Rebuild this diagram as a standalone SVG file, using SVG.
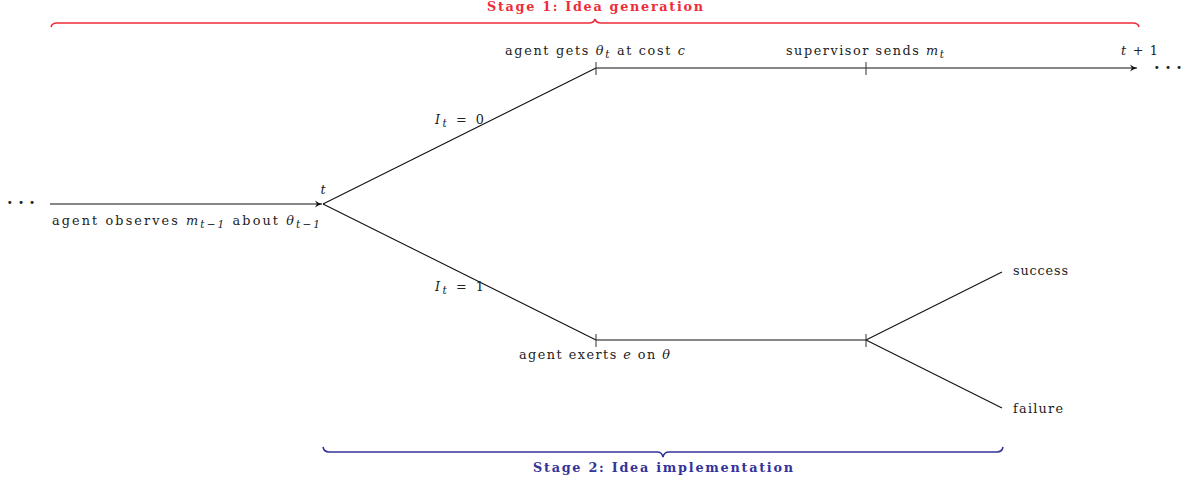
<svg xmlns="http://www.w3.org/2000/svg" width="1195" height="482" viewBox="0 0 1195 482">
<style>
text{font-family:"DejaVu Serif","Liberation Serif",serif;font-size:12.8px;fill:#222}
.m{font-style:italic}
.s{font-size:10.5px}
.ln{stroke:#111;stroke-width:1.1;fill:none}
.tk{stroke:#333;stroke-width:1;fill:none}
.b1{fill:#ee2c3a;font-weight:bold}
.b2{fill:#33339a;font-weight:bold}
.dots{font-size:16px;font-weight:bold}
</style>
<defs>
<marker id="ar" markerWidth="10" markerHeight="10" refX="8" refY="5" orient="auto" markerUnits="userSpaceOnUse">
<path d="M1,1.5 Q4,4 8,5 Q4,6 1,8.5 L3,5 Z" fill="#111"/>
</marker>
</defs>
<rect width="1195" height="482" fill="#fff"/>
<g id="connectors">
<line class="ln" x1="50" y1="204" x2="322" y2="204" marker-end="url(#ar)"/>
<line class="ln" x1="323" y1="204" x2="596" y2="68"/>
<line class="ln" x1="323" y1="204" x2="596" y2="340"/>
<line class="ln" x1="596" y1="68" x2="1137" y2="68" marker-end="url(#ar)"/>
<line class="ln" x1="596" y1="340" x2="866" y2="340"/>
<line class="ln" x1="866" y1="340" x2="1002" y2="272"/>
<line class="ln" x1="866" y1="340" x2="1002" y2="408"/>
<line class="tk" x1="596" y1="62" x2="596" y2="75"/>
<line class="tk" x1="866" y1="62" x2="866" y2="75"/>
<line class="tk" x1="596" y1="334" x2="596" y2="347"/>
<line class="tk" x1="866" y1="334" x2="866" y2="347"/>
</g>
<g id="brace1">
<path d="M51,27 Q52,23 57,23 L589,23 Q594,23 595,19 Q596,23 601,23 L1133,23 Q1138,23 1139,27" fill="none" stroke="#ee2c3a" stroke-width="1.6"/>
<text class="b1" x="487" y="11" textLength="216" lengthAdjust="spacing">Stage 1: Idea generation</text>
</g>
<g id="brace2">
<path d="M323,447 Q324,452 329,452 L657,452 Q662,452 663,457 Q664,452 669,452 L997,452 Q1002,452 1003,447" fill="none" stroke="#33339a" stroke-width="1.6"/>
<text class="b2" x="533" y="472" textLength="260" lengthAdjust="spacing">Stage 2: Idea implementation</text>
</g>
<g id="start">
<text class="dots" x="21" y="208" text-anchor="middle">· · ·</text>
<text x="52" y="225" textLength="268" lengthAdjust="spacing">agent observes <tspan class="m">m</tspan><tspan class="s m" dy="3">t−1</tspan><tspan dy="-3"> about </tspan><tspan class="m">θ</tspan><tspan class="s m" dy="3">t−1</tspan></text>
</g>
<g id="node-t"><text class="m" x="323" y="194" text-anchor="middle">t</text></g>
<g id="label-I0"><text x="435" y="124" textLength="49" lengthAdjust="spacing"><tspan class="m">I</tspan><tspan class="s m" dy="3">t</tspan><tspan dy="-3"> = 0</tspan></text></g>
<g id="label-I1"><text x="435" y="291" textLength="49" lengthAdjust="spacing"><tspan class="m">I</tspan><tspan class="s m" dy="3">t</tspan><tspan dy="-3"> = 1</tspan></text></g>
<g id="node-gets"><text x="505" y="55" textLength="180" lengthAdjust="spacing">agent gets <tspan class="m">θ</tspan><tspan class="s m" dy="3">t</tspan><tspan dy="-3"> at cost </tspan><tspan class="m">c</tspan></text></g>
<g id="node-sends"><text x="786" y="55" textLength="158" lengthAdjust="spacing">supervisor sends <tspan class="m">m</tspan><tspan class="s m" dy="3">t</tspan></text></g>
<g id="node-next">
<text x="1121" y="55" textLength="37" lengthAdjust="spacing"><tspan class="m">t</tspan> + 1</text>
<text class="dots" x="1168" y="73" text-anchor="middle">· · ·</text>
</g>
<g id="node-exerts"><text x="519" y="359" textLength="151" lengthAdjust="spacing">agent exerts <tspan class="m">e</tspan> on <tspan class="m">θ</tspan></text></g>
<g id="node-success"><text x="1013" y="275" textLength="55" lengthAdjust="spacing">success</text></g>
<g id="node-failure"><text x="1013" y="413" textLength="50" lengthAdjust="spacing">failure</text></g>
</svg>
